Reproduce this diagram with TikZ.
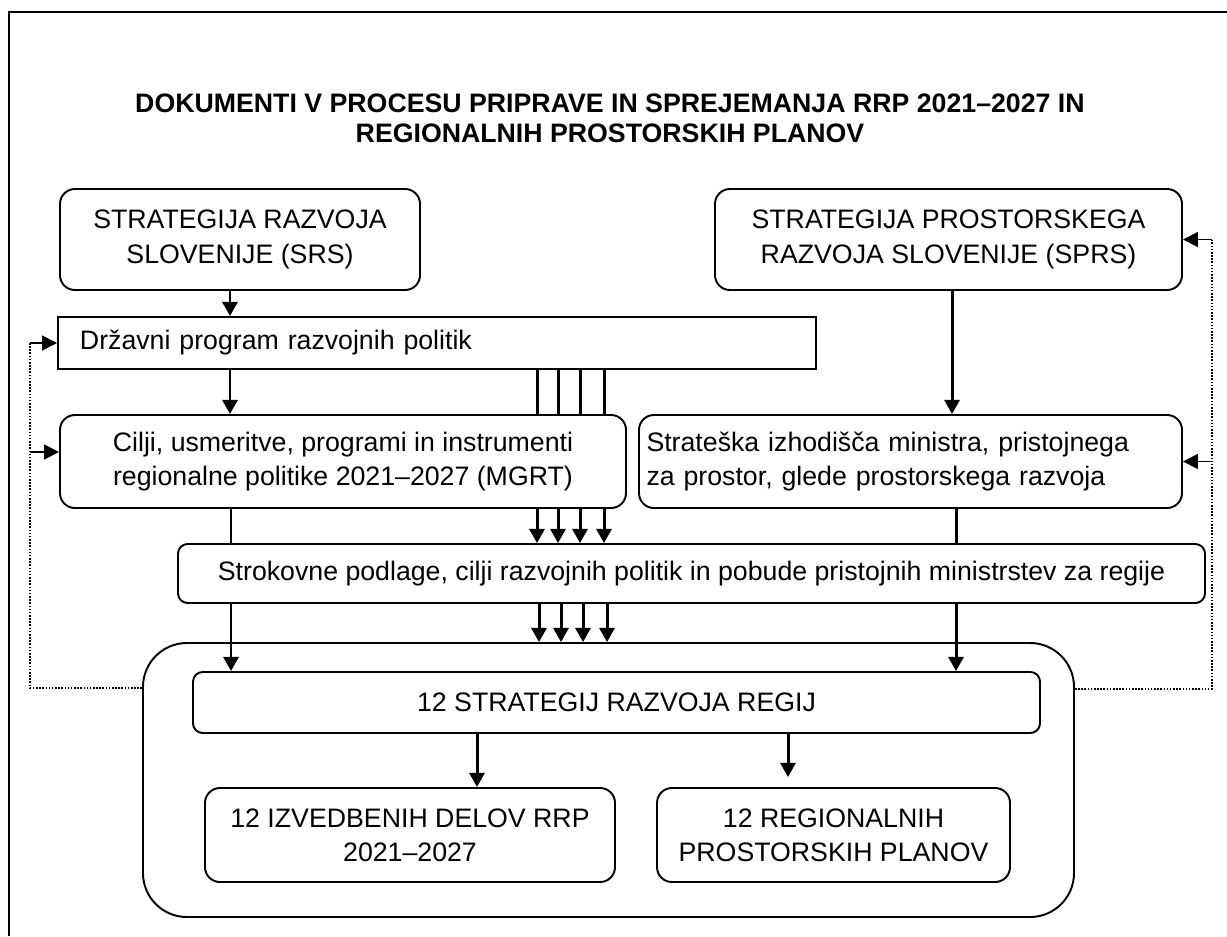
\documentclass[tikz,border=0pt]{standalone}
\usepackage{fontspec}
\setmainfont{Liberation Sans}
\usetikzlibrary{arrows.meta}

\begin{document}
\begin{tikzpicture}[x=0.2mm, y=-0.2mm,
    box/.style={draw, line width=1.1pt, rounded corners=8.5pt, align=center,
      inner sep=0pt, font=\fontsize{15.2}{19.5}\selectfont},
    flow/.style={line width=1.7pt, -{Triangle[length=8pt, width=8.5pt]}},
    link/.style={line width=1.7pt},
    fb/.style={line width=0.9pt, dash pattern=on 0.9pt off 0.9pt},
    fbarrow/.style={line width=1pt, -{Triangle[length=8.5pt, width=8.5pt]}}]
  \useasboundingbox (0,0) rectangle (1227,936);
  \draw[line width=1.1pt] (9,936) -- (9,12) -- (1227,12);

  \node[align=center, font=\bfseries\fontsize{15.2}{17}\selectfont] (title) at (610,118)
    {DOKUMENTI V PROCESU PRIPRAVE IN SPREJEMANJA RRP 2021--2027 IN\\
     REGIONALNIH PROSTORSKIH PLANOV};

  % boxes
  \node[box, minimum width=72mm, minimum height=20.2mm] (srs) at (240,239.5)
    {STRATEGIJA RAZVOJA\\SLOVENIJE (SRS)};
  \node[box, minimum width=93.4mm, minimum height=20.2mm] (sprs) at (948.5,239.5)
    {STRATEGIJA PROSTORSKEGA\\RAZVOJA SLOVENIJE (SPRS)};
  \node[box, rounded corners=0pt, minimum height=10.4mm, inner xsep=4.4mm,
    text width=142.8mm, align=left] (dprp) at (437,343)
    {Državni program razvojnih politik};
  \node[box, minimum width=113.2mm, minimum height=18.6mm] (cilji) at (343,461.5)
    {Cilji, usmeritve, programi in instrumenti\\regionalne politike 2021--2027 (MGRT)};
  \node[box, minimum height=18.6mm, inner xsep=1.5mm, text width=105.6mm,
    align=left] (strat) at (910.5,461.5)
    {Strateška izhodišča ministra, pristojnega\\za prostor, glede prostorskega razvoja};
  \node[box, rounded corners=5.5pt, minimum width=205.4mm, minimum height=11.8mm]
    (strok) at (691.5,573.5)
    {Strokovne podlage, cilji razvojnih politik in pobude pristojnih ministrstev za regije};
  \node[box, rounded corners=25pt, minimum width=186.2mm, minimum height=54.8mm]
    (cont) at (608.5,780) {};
  \node[box, rounded corners=5.5pt, minimum width=169.4mm, minimum height=12.2mm]
    (reg) at (616.5,702.5) {12 STRATEGIJ RAZVOJA REGIJ};
  \node[box, minimum width=82mm, minimum height=18.8mm] (izv) at (410,835)
    {12 IZVEDBENIH DELOV RRP\\2021--2027};
  \node[box, minimum width=70.6mm, minimum height=18.8mm] (rpp) at (833.5,835)
    {12 REGIONALNIH\\PROSTORSKIH PLANOV};

  % columns of the connectors
  \coordinate (cA) at (230,0);
  \coordinate (cB) at (231,0);
  \coordinate (cC) at (952,0);
  \coordinate (cD) at (956,0);
  \coordinate (cE) at (477,0);
  \coordinate (cF) at (788,0);

  \draw[flow] (cA |- srs.south) -- (cA |- dprp.north);
  \draw[flow] (cA |- dprp.south) -- (cA |- cilji.north);
  \draw[link] (cB |- cilji.south) -- (cB |- strok.north);
  \draw[flow] (cB |- strok.south) -- (cB |- reg.north);
  \draw[flow] (cC |- sprs.south) -- (cC |- strat.north);
  \draw[link] (cD |- strat.south) -- (cD |- strok.north);
  \draw[flow] (cD |- strok.south) -- (cD |- reg.north);
  \draw[flow] (cE |- reg.south) -- (cE |- izv.north);
  \draw[flow, shorten >=2mm] (cF |- reg.south) -- (cF |- rpp.north);

  \foreach \i/\a/\b in {1/537/539, 2/558/561, 3/580/583, 4/604/607}
  {
    \coordinate (t\i) at (\a,0);
    \coordinate (u\i) at (\b,0);
    \draw[link] (t\i |- dprp.south) -- (t\i |- cilji.north);
    \draw[flow] (t\i |- cilji.south) -- (t\i |- strok.north);
    \draw[flow] (u\i |- strok.south) -- (u\i |- cont.north);
  }

  % feedback
  \coordinate (fbL) at (30,688);
  \coordinate (fbLc) at (30,452);
  \coordinate (fbR) at (1212,689);
  \draw[fb] (fbL -| cont.west) -- (fbL) -- (fbL |- dprp.west);
  \draw[fbarrow] (fbL |- dprp.west) -- (dprp.west);
  \draw[fbarrow] (fbLc) -- (fbLc -| cilji.west);
  \draw[fb] (fbR -| cont.east) -- (fbR) -- (fbR |- sprs.east);
  \draw[fbarrow] (fbR |- sprs.east) -- (sprs.east);
  \draw[fbarrow] (fbR |- strat.east) -- (strat.east);
\end{tikzpicture}
\end{document}
